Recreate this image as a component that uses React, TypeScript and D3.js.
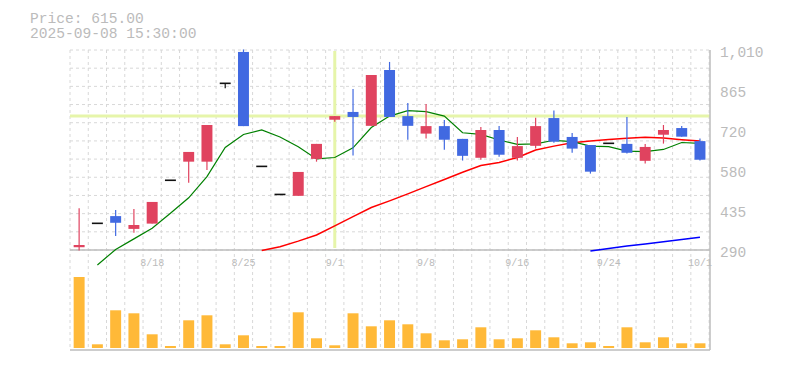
import React from 'react';
import * as d3 from 'd3';

const dates = ["8/12","8/13","8/14","8/15","8/18","8/19","8/20","8/21","8/22","8/25","8/26","8/27","8/28","8/29","9/1","9/2","9/3","9/4","9/5","9/8","9/9","9/10","9/11","9/12","9/16","9/17","9/18","9/19","9/22","9/24","9/25","9/26","9/29","9/30","10/1"];
const openP  = [300,386,412,366,385,541,608,608,890,1003,591,490,485,618,759,787,737,938,772,709,736,690,622,722,622,665,765,697,668,674,672,611,705,729,682];
const closeP = [308,386,388,380,463,541,643,740,890,736,591,490,571,672,772,769,920,769,737,736,687,629,722,633,664,736,680,655,572,674,640,661,722,698,615];
const highP  = [440,386,434,438,463,541,643,740,890,1012,591,490,571,672,772,870,920,967,819,816,758,690,733,736,697,766,792,711,668,674,769,672,740,736,691];
const lowP   = [288,386,340,352,385,541,532,578,872,736,591,490,485,608,752,630,737,769,687,691,651,612,615,626,612,655,676,640,565,674,637,601,673,698,612];
const volume = [7100,370,3770,3470,1370,200,2770,3270,370,1270,200,200,3570,970,270,3470,2170,2770,2370,1470,770,870,2070,870,970,1770,1070,470,570,200,2070,570,1070,470,470];
const maShort: (number|null)[] = [null,236,292,330,368,422,478,554,659,706,722,697,662,618,623,658,731,772,792,788,772,712,706,686,670,672,685,680,664,662,646,644,652,677,674];
const maMid: (number|null)[] = [null,null,null,null,null,null,null,null,null,null,288,302,322,344,377,410,443,467,492,518,544,570,594,605,623,650,664,676,682,688,692,696,693,687,682];
const maLong: (number|null)[] = [null,null,null,null,null,null,null,null,null,null,null,null,null,null,null,null,null,null,null,null,null,null,null,null,null,null,null,null,286,295,304,312,320,328,336];
const yTickLabels = ["1,010","865","720","580","435","290"];
const xTickLabels = ["8/18","8/25","9/1","9/8","9/16","9/24","10/1"];
const titleLines = ["Price: 615.00","2025-09-08 15:30:00"];
const crossDate = "9/1";
const crossPrice = 772;

export default function App() {
  const W = 785, H = 370;
  const left = 70, right = 709.1, top = 50, priceBottom = 250, volBottom = 350;
  const x = d3.scaleBand<string>().domain(dates).range([left, right]).paddingInner(0.4).paddingOuter(0.2);
  const y = d3.scaleLinear().domain([290, 1010]).range([priceBottom, top]);
  const yv = d3.scaleLinear().domain([0, 7100]).range([348, 277]);
  const bw = x.bandwidth();
  const cx = (d: string) => (x(d) as number) + bw / 2;
  const step = x.step();

  const red = "#e0435f", blue = "#4169e1", gridC = "#d8d8d8", axisC = "#bdbdbd", textC = "#bbbbbb";
  const mono = "'Liberation Mono', 'DejaVu Sans Mono', monospace";

  const hGrid = d3.range(12).map(k => 290 + (k * 720) / 11);
  const vGrid = d3.range(36).map(k => left + k * step);
  const yTicks = d3.range(6).map(k => 1010 - k * 144);

  const mkLine = (arr: (number|null)[]) =>
    d3.line<number|null>()
      .defined(d => d != null)
      .x((_, i) => cx(dates[i]))
      .y(d => y(d as number))(arr) || "";

  return (
    <svg width={W} height={H} style={{ position: 'absolute', left: 0, top: 0, background: '#fff' }}>
      {titleLines.map((t, i) => (
        <text key={t} x={30} y={22.5 + i * 15} fill={textC} fontFamily={mono} fontSize={14.6}>{t}</text>
      ))}
      {/* grid */}
      {hGrid.map((v, i) => (
        <line key={'h' + i} x1={left} x2={right} y1={y(v)} y2={y(v)} stroke={gridC} strokeDasharray="3,3" />
      ))}
      {vGrid.map((gx, i) => (
        <line key={'v' + i} x1={gx} x2={gx} y1={top} y2={volBottom} stroke={gridC} strokeDasharray="3,3" />
      ))}
      {/* crosshair */}
      <line x1={cx(crossDate)} x2={cx(crossDate)} y1={51} y2={248} stroke="#e6f5aa" strokeWidth={3} />
      <line x1={left} x2={710} y1={y(crossPrice)} y2={y(crossPrice)} stroke="#e6f5aa" strokeWidth={3} />
      {/* axes */}
      <line x1={left} x2={710} y1={priceBottom} y2={priceBottom} stroke={axisC} strokeWidth={1.5} />
      <line x1={left} x2={710} y1={volBottom} y2={volBottom} stroke={axisC} strokeWidth={1.5} />
      <line x1={710} x2={710} y1={top} y2={volBottom} stroke={axisC} strokeWidth={1.5} />
      {yTicks.map((v, i) => (
        <text key={'yt' + i} x={720} y={y(v) + 7} fill={textC} fontFamily={mono} fontSize={14.5}>{yTickLabels[i]}</text>
      ))}
      {xTickLabels.map(l => (
        <text key={'xt' + l} x={cx(l)} y={265.5} fill={textC} fontFamily={mono} fontSize={10} textAnchor="middle">{l}</text>
      ))}
      {/* volume */}
      {volume.map((v, i) => (
        <rect key={'vol' + i} x={x(dates[i])} y={yv(v)} width={bw} height={yv(0) - yv(v)} fill="#ffb938" />
      ))}
      {/* moving averages */}
      <path d={mkLine(maLong)} fill="none" stroke="#0000ff" strokeWidth={1.5} />
      <path d={mkLine(maMid)} fill="none" stroke="#ff0000" strokeWidth={1.5} />
      <path d={mkLine(maShort)} fill="none" stroke="#008000" strokeWidth={1.2} />
      {/* candles */}
      {dates.map((d, i) => {
        const o = openP[i], c = closeP[i], h = highP[i], l = lowP[i];
        const col = c > o ? red : c < o ? blue : "#111";
        const x0 = cx(d);
        const yt = y(Math.max(o, c)), yb = y(Math.min(o, c));
        return (
          <g key={'c' + i}>
            {h !== l && <line x1={x0} x2={x0} y1={y(h)} y2={y(l)} stroke={col} strokeWidth={1.2} />}
            {o === c
              ? <line x1={x(d)} x2={(x(d) as number) + bw} y1={yt} y2={yt} stroke={col} strokeWidth={1.6} />
              : <rect x={x(d)} y={yt} width={bw} height={Math.max(1, yb - yt)} fill={col} />}
          </g>
        );
      })}
    </svg>
  );
}
